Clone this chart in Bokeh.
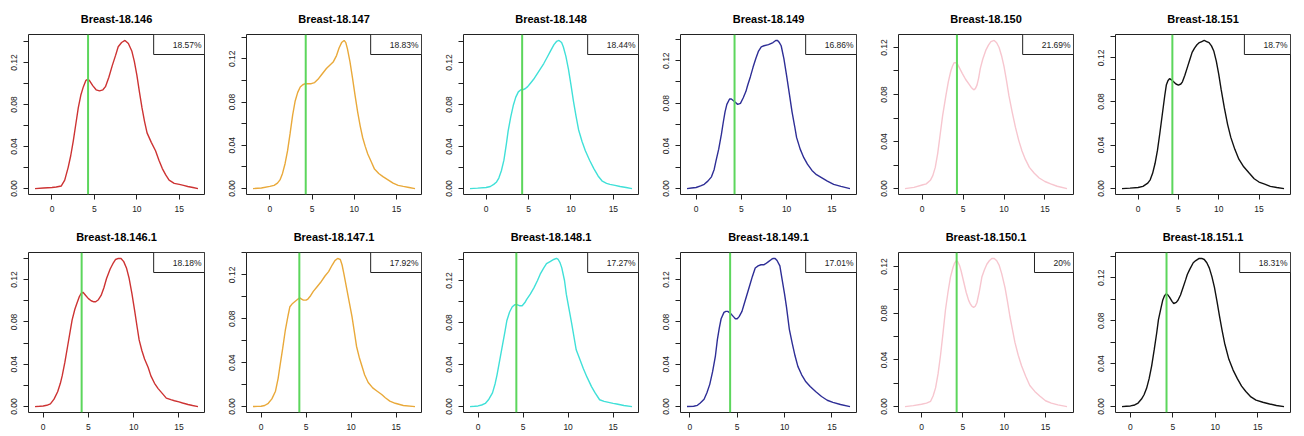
from bokeh.plotting import figure
from bokeh.layouts import gridplot
from bokeh.models import Range1d, FixedTicker, CustomJSTickFormatter, Span, Label
from bokeh.embed import file_html
from bokeh.resources import INLINE

names = ["Breast-18.146", "Breast-18.147", "Breast-18.148", "Breast-18.149", "Breast-18.150", "Breast-18.151",
         "Breast-18.146.1", "Breast-18.147.1", "Breast-18.148.1", "Breast-18.149.1", "Breast-18.150.1", "Breast-18.151.1"]
pcts = ["18.57%", "18.83%", "18.44%", "16.86%", "21.69%", "18.7%",
        "18.18%", "17.92%", "17.27%", "17.01%", "20%", "18.31%"]
colors = ["#cd3333", "#e9a93a", "#40e0d8", "#2e2e96", "#f7c6cf", "#111111",
          "#cd3333", "#e9a93a", "#40e0d8", "#2e2e96", "#f7c6cf", "#111111"]
threshold = 4.25
x_ticks = [0, 5, 10, 15]
y_ticks = [0.0, 0.02, 0.04, 0.06, 0.08, 0.10, 0.12, 0.14]

x_146 = [-2.0, -1.0, 0.0, 0.5, 1.1, 1.5, 1.9, 2.2, 2.5, 2.8, 3.1, 3.4, 3.7, 4.0, 4.2, 4.4, 4.8, 5.2, 5.6, 6.0, 6.3, 6.7, 7.1, 7.5, 7.8, 8.2, 8.6, 9.0, 9.4, 9.7, 10.0, 10.3, 10.6, 10.9, 11.2, 11.7, 12.2, 12.6, 13.0, 13.4, 13.8, 14.4, 15.0, 15.5, 16.0, 16.6, 17.2]
y_146 = [0.0, 0.0005, 0.001, 0.0015, 0.0025, 0.008, 0.020, 0.031, 0.045, 0.061, 0.077, 0.089, 0.097, 0.103, 0.104, 0.103, 0.098, 0.094, 0.093, 0.094, 0.097, 0.106, 0.117, 0.127, 0.135, 0.139, 0.141, 0.138, 0.131, 0.121, 0.108, 0.092, 0.077, 0.064, 0.053, 0.044, 0.036, 0.027, 0.019, 0.013, 0.008, 0.005, 0.004, 0.003, 0.002, 0.001, 0.0]

x_147 = [-2.0, -1.0, 0.0, 0.5, 0.9, 1.2, 1.5, 1.8, 2.1, 2.4, 2.7, 3.0, 3.3, 3.6, 3.9, 4.2, 4.5, 4.9, 5.3, 5.7, 6.1, 6.4, 6.7, 7.1, 7.5, 7.9, 8.2, 8.5, 8.8, 9.0, 9.2, 9.5, 9.8, 10.1, 10.4, 10.7, 11.0, 11.3, 11.6, 12.0, 12.4, 12.9, 13.4, 14.0, 14.6, 15.2, 15.8, 16.5, 17.2]
y_147 = [0.0, 0.0005, 0.002, 0.003, 0.005, 0.008, 0.014, 0.023, 0.035, 0.051, 0.068, 0.081, 0.089, 0.094, 0.096, 0.097, 0.097, 0.097, 0.098, 0.101, 0.105, 0.108, 0.111, 0.114, 0.117, 0.123, 0.130, 0.135, 0.137, 0.135, 0.129, 0.117, 0.102, 0.086, 0.071, 0.058, 0.047, 0.039, 0.032, 0.025, 0.018, 0.014, 0.011, 0.008, 0.005, 0.003, 0.002, 0.001, 0.0]

x_148 = [-1.9, -1.0, 0.0, 0.5, 0.9, 1.2, 1.5, 1.8, 2.1, 2.4, 2.6, 2.9, 3.2, 3.5, 3.8, 4.1, 4.3, 4.6, 4.9, 5.3, 5.6, 6.0, 6.4, 6.8, 7.2, 7.6, 8.0, 8.3, 8.6, 8.9, 9.1, 9.4, 9.7, 10.0, 10.3, 10.6, 10.9, 11.3, 11.7, 12.2, 12.7, 13.2, 13.7, 14.2, 14.6, 15.2, 15.8, 16.5, 17.2]
y_148 = [0.0, 0.0004, 0.001, 0.002, 0.004, 0.006, 0.010, 0.017, 0.027, 0.043, 0.055, 0.068, 0.079, 0.087, 0.092, 0.094, 0.094, 0.095, 0.097, 0.101, 0.104, 0.109, 0.114, 0.119, 0.125, 0.131, 0.137, 0.140, 0.141, 0.139, 0.135, 0.126, 0.114, 0.099, 0.083, 0.069, 0.056, 0.045, 0.036, 0.027, 0.019, 0.012, 0.007, 0.005, 0.004, 0.003, 0.002, 0.001, 0.0]

x_149 = [-1.0, -0.5, 0.0, 0.5, 0.9, 1.3, 1.7, 2.0, 2.2, 2.5, 2.8, 3.0, 3.2, 3.4, 3.7, 3.9, 4.2, 4.6, 4.9, 5.2, 5.5, 5.7, 6.0, 6.3, 6.6, 6.9, 7.2, 7.5, 8.0, 8.5, 8.8, 9.0, 9.2, 9.4, 9.7, 10.0, 10.3, 10.6, 10.9, 11.1, 11.5, 11.9, 12.3, 12.8, 13.3, 13.9, 14.5, 15.2, 16.0, 17.0]
y_149 = [0.0, 0.0005, 0.001, 0.0025, 0.004, 0.007, 0.011, 0.018, 0.026, 0.037, 0.051, 0.062, 0.072, 0.079, 0.084, 0.084, 0.082, 0.079, 0.080, 0.085, 0.091, 0.097, 0.105, 0.114, 0.122, 0.129, 0.133, 0.134, 0.135, 0.137, 0.139, 0.139, 0.137, 0.134, 0.122, 0.106, 0.089, 0.072, 0.058, 0.048, 0.037, 0.029, 0.023, 0.017, 0.013, 0.010, 0.007, 0.004, 0.002, 0.0]

x_150 = [-2.1, -1.0, 0.0, 0.5, 1.0, 1.3, 1.6, 1.9, 2.2, 2.5, 2.9, 3.2, 3.5, 3.7, 3.9, 4.1, 4.3, 4.6, 4.9, 5.3, 5.7, 6.0, 6.3, 6.5, 6.7, 6.9, 7.1, 7.4, 7.8, 8.1, 8.4, 8.8, 9.1, 9.4, 9.7, 10.0, 10.3, 10.6, 11.0, 11.4, 11.8, 12.2, 12.6, 13.1, 13.7, 14.3, 15.0, 15.7, 16.5, 17.7]
y_150 = [0.0, 0.001, 0.003, 0.004, 0.007, 0.011, 0.018, 0.030, 0.046, 0.062, 0.079, 0.091, 0.100, 0.104, 0.107, 0.107, 0.106, 0.102, 0.098, 0.093, 0.089, 0.086, 0.084, 0.085, 0.088, 0.094, 0.102, 0.110, 0.118, 0.122, 0.125, 0.126, 0.124, 0.120, 0.113, 0.104, 0.092, 0.079, 0.065, 0.052, 0.041, 0.032, 0.025, 0.018, 0.013, 0.009, 0.006, 0.004, 0.002, 0.0]

x_151 = [-2.0, -1.0, 0.0, 0.6, 1.2, 1.5, 1.8, 2.1, 2.4, 2.7, 3.0, 3.3, 3.5, 3.7, 3.9, 4.1, 4.4, 4.7, 5.0, 5.3, 5.5, 5.8, 6.1, 6.4, 6.7, 7.0, 7.3, 7.6, 7.9, 8.2, 8.5, 8.8, 9.1, 9.4, 9.7, 10.0, 10.3, 10.7, 11.1, 11.5, 12.0, 12.5, 13.1, 13.8, 14.4, 15.0, 15.7, 16.4, 17.2, 18.1]
y_151 = [0.0, 0.0004, 0.001, 0.002, 0.005, 0.008, 0.014, 0.023, 0.035, 0.051, 0.068, 0.085, 0.095, 0.099, 0.101, 0.100, 0.098, 0.096, 0.095, 0.096, 0.098, 0.104, 0.111, 0.118, 0.125, 0.129, 0.132, 0.134, 0.135, 0.136, 0.135, 0.134, 0.131, 0.126, 0.117, 0.105, 0.091, 0.074, 0.059, 0.047, 0.036, 0.027, 0.020, 0.014, 0.009, 0.006, 0.004, 0.002, 0.001, 0.0]

x_146_1 = [-0.9, -0.4, 0.0, 0.4, 0.8, 1.2, 1.6, 1.9, 2.1, 2.4, 2.7, 3.0, 3.2, 3.5, 3.7, 4.0, 4.2, 4.4, 4.7, 5.0, 5.3, 5.6, 5.8, 6.1, 6.4, 6.7, 7.0, 7.4, 7.7, 8.0, 8.3, 8.6, 8.9, 9.2, 9.5, 9.8, 10.1, 10.4, 10.6, 10.9, 11.2, 11.6, 11.9, 12.3, 12.7, 13.2, 13.6, 14.1, 14.5, 15.0, 15.4, 16.0, 16.5, 17.1]
y_146_1 = [0.0, 0.0003, 0.0006, 0.0012, 0.0025, 0.007, 0.014, 0.022, 0.029, 0.042, 0.057, 0.072, 0.082, 0.092, 0.097, 0.104, 0.107, 0.108, 0.105, 0.102, 0.100, 0.099, 0.099, 0.101, 0.105, 0.112, 0.121, 0.130, 0.135, 0.139, 0.140, 0.140, 0.137, 0.131, 0.121, 0.107, 0.091, 0.074, 0.063, 0.053, 0.045, 0.037, 0.029, 0.022, 0.017, 0.012, 0.008, 0.0065, 0.0055, 0.0045, 0.0034, 0.002, 0.001, 0.0]

x_147_1 = [-0.9, -0.4, 0.0, 0.4, 0.8, 1.2, 1.6, 1.9, 2.1, 2.4, 2.7, 3.0, 3.2, 3.5, 3.8, 4.1, 4.3, 4.5, 4.7, 5.0, 5.2, 5.5, 5.8, 6.2, 6.6, 7.1, 7.5, 7.9, 8.2, 8.5, 8.8, 9.0, 9.2, 9.5, 9.8, 10.1, 10.4, 10.6, 10.9, 11.2, 11.5, 11.9, 12.4, 12.9, 13.4, 13.8, 14.3, 14.9, 15.8, 17.1]
y_147_1 = [0.0, 0.0002, 0.0003, 0.001, 0.003, 0.007, 0.014, 0.026, 0.037, 0.053, 0.070, 0.083, 0.091, 0.094, 0.096, 0.098, 0.099, 0.098, 0.097, 0.097, 0.098, 0.101, 0.105, 0.109, 0.113, 0.119, 0.123, 0.129, 0.133, 0.135, 0.134, 0.129, 0.121, 0.108, 0.095, 0.082, 0.066, 0.055, 0.045, 0.037, 0.029, 0.022, 0.017, 0.014, 0.011, 0.008, 0.005, 0.003, 0.001, 0.0]

x_148_1 = [-0.9, -0.4, 0.0, 0.4, 0.8, 1.2, 1.6, 1.9, 2.1, 2.4, 2.7, 3.0, 3.2, 3.5, 3.8, 4.1, 4.3, 4.6, 4.9, 5.2, 5.4, 5.8, 6.2, 6.6, 6.9, 7.3, 7.6, 8.0, 8.4, 8.7, 8.9, 9.1, 9.3, 9.6, 9.8, 10.1, 10.4, 10.7, 10.9, 11.3, 11.7, 12.1, 12.6, 13.0, 13.5, 14.0, 14.5, 15.0, 15.4, 16.2, 17.1]
y_148_1 = [0.0, 0.0003, 0.0006, 0.0015, 0.003, 0.007, 0.013, 0.022, 0.030, 0.044, 0.058, 0.072, 0.082, 0.090, 0.095, 0.097, 0.097, 0.096, 0.096, 0.099, 0.102, 0.107, 0.113, 0.120, 0.126, 0.132, 0.136, 0.138, 0.140, 0.141, 0.140, 0.137, 0.132, 0.120, 0.107, 0.093, 0.079, 0.064, 0.054, 0.045, 0.036, 0.028, 0.019, 0.013, 0.0065, 0.005, 0.004, 0.003, 0.0025, 0.001, 0.0]

x_149_1 = [-0.3, 0.4, 0.8, 1.1, 1.5, 1.8, 2.1, 2.4, 2.7, 2.9, 3.1, 3.3, 3.6, 3.8, 4.0, 4.3, 4.6, 4.8, 5.0, 5.2, 5.5, 5.7, 6.0, 6.3, 6.6, 6.9, 7.2, 7.5, 7.8, 8.0, 8.3, 8.6, 8.8, 9.0, 9.2, 9.5, 9.7, 10.0, 10.2, 10.5, 10.8, 11.1, 11.4, 11.8, 12.2, 12.7, 13.3, 13.9, 14.5, 15.1, 15.9, 16.9]
y_149_1 = [0.0, 0.0003, 0.0012, 0.0034, 0.007, 0.013, 0.021, 0.033, 0.048, 0.063, 0.074, 0.083, 0.089, 0.090, 0.090, 0.088, 0.085, 0.083, 0.083, 0.085, 0.090, 0.096, 0.105, 0.114, 0.123, 0.131, 0.133, 0.134, 0.134, 0.135, 0.137, 0.139, 0.140, 0.140, 0.138, 0.133, 0.122, 0.106, 0.094, 0.073, 0.060, 0.048, 0.038, 0.030, 0.024, 0.019, 0.014, 0.0095, 0.006, 0.004, 0.002, 0.0]

x_150_1 = [-2.0, -1.0, 0.0, 0.6, 1.1, 1.4, 1.7, 2.0, 2.3, 2.6, 2.9, 3.2, 3.5, 3.8, 4.0, 4.2, 4.4, 4.6, 4.8, 5.1, 5.4, 5.7, 5.9, 6.1, 6.3, 6.5, 6.7, 7.0, 7.3, 7.6, 7.9, 8.2, 8.5, 8.8, 9.1, 9.4, 9.7, 10.1, 10.4, 10.7, 11.0, 11.3, 11.7, 12.1, 12.6, 13.1, 13.7, 14.3, 15.0, 15.7, 16.5, 17.6]
y_150_1 = [0.0, 0.0008, 0.002, 0.003, 0.0045, 0.009, 0.016, 0.028, 0.044, 0.063, 0.083, 0.098, 0.111, 0.119, 0.123, 0.125, 0.124, 0.121, 0.116, 0.107, 0.098, 0.091, 0.088, 0.086, 0.085, 0.086, 0.089, 0.099, 0.111, 0.117, 0.122, 0.125, 0.127, 0.127, 0.125, 0.121, 0.114, 0.102, 0.090, 0.077, 0.066, 0.055, 0.044, 0.035, 0.026, 0.018, 0.013, 0.009, 0.005, 0.003, 0.0015, 0.0]

x_151_1 = [-1.0, -0.5, 0.0, 0.5, 0.9, 1.3, 1.6, 1.9, 2.2, 2.5, 2.8, 3.1, 3.3, 3.6, 3.8, 4.0, 4.2, 4.4, 4.6, 4.9, 5.1, 5.4, 5.6, 5.9, 6.2, 6.5, 6.7, 7.0, 7.4, 7.7, 8.1, 8.4, 8.7, 9.0, 9.3, 9.6, 9.9, 10.2, 10.5, 10.8, 11.1, 11.6, 12.1, 12.6, 13.1, 13.6, 14.2, 14.8, 15.6, 16.4, 17.2, 18.1]
y_151_1 = [0.0, 0.0003, 0.0006, 0.0015, 0.0033, 0.007, 0.011, 0.017, 0.026, 0.038, 0.053, 0.069, 0.081, 0.092, 0.099, 0.103, 0.105, 0.104, 0.102, 0.098, 0.096, 0.097, 0.099, 0.104, 0.111, 0.118, 0.123, 0.128, 0.134, 0.136, 0.138, 0.138, 0.137, 0.134, 0.129, 0.121, 0.111, 0.098, 0.084, 0.071, 0.059, 0.044, 0.034, 0.026, 0.019, 0.014, 0.009, 0.006, 0.004, 0.0024, 0.001, 0.0]

curves = [(x_146, y_146), (x_147, y_147), (x_148, y_148), (x_149, y_149), (x_150, y_150), (x_151, y_151),
          (x_146_1, y_146_1), (x_147_1, y_147_1), (x_148_1, y_148_1), (x_149_1, y_149_1), (x_150_1, y_150_1), (x_151_1, y_151_1)]

widths = [218, 217, 217, 218, 217, 217]
FONT = "Liberation Sans"

figs = []
for i, (xs, ys) in enumerate(curves):
    xmin, xmax = min(xs), max(xs)
    ymin, ymax = 0.0, max(ys)
    dx = 0.04 * (xmax - xmin)
    dy = 0.04 * (ymax - ymin)
    xr = Range1d(xmin - dx, xmax + dx)
    yr = Range1d(ymin - dy, ymax + dy)
    p = figure(width=widths[i % 6], height=218, x_range=xr, y_range=yr,
               output_backend="svg", toolbar_location=None, tools="",
               min_border_left=28, min_border_right=14, min_border_top=32, min_border_bottom=24)
    p.title.text = names[i]
    p.title.align = "center"
    p.title.text_font = FONT
    p.title.text_font_size = "11px"
    p.title.text_font_style = "bold"
    p.title.text_color = "black"
    p.title.standoff = 20
    p.xgrid.visible = False
    p.ygrid.visible = False
    p.outline_line_color = "#222222"
    p.outline_line_width = 1
    p.outline_line_alpha = 1.0
    p.background_fill_color = "white"
    p.border_fill_color = "white"

    p.xaxis.ticker = FixedTicker(ticks=x_ticks)
    p.yaxis.ticker = FixedTicker(ticks=y_ticks)
    p.yaxis.formatter = CustomJSTickFormatter(code="var k = Math.round(tick*100); return (k % 4 == 0) ? tick.toFixed(2) : '';")
    p.yaxis.major_label_orientation = "vertical"
    for ax in (p.xaxis, p.yaxis):
        ax.axis_line_color = None
        ax.major_tick_out = 5
        ax.major_tick_in = 0
        ax.minor_tick_line_color = None
        ax.major_tick_line_color = "#222222"
        ax.major_label_text_font = FONT
        ax.major_label_text_font_size = "8.5px"
        ax.major_label_text_color = "#222222"
        ax.major_label_standoff = 6

    p.line(xs, ys, line_color=colors[i], line_width=1.4)
    p.add_layout(Span(location=threshold, dimension="height", line_color="#5cd65c", line_width=2))
    lab = Label(x=xmax + dx, y=ymax + dy, text=pcts[i], anchor="top_right",
                text_font=FONT, text_font_size="8.5px", text_color="#222222",
                border_line_color="#222222", border_line_width=1,
                background_fill_color="white",
                padding=dict(left=19, right=3, top=5, bottom=5))
    p.add_layout(lab)
    figs.append(p)

grid = gridplot([figs[:6], figs[6:]], toolbar_location=None)
open("out.html", "w").write(file_html(grid, INLINE))
